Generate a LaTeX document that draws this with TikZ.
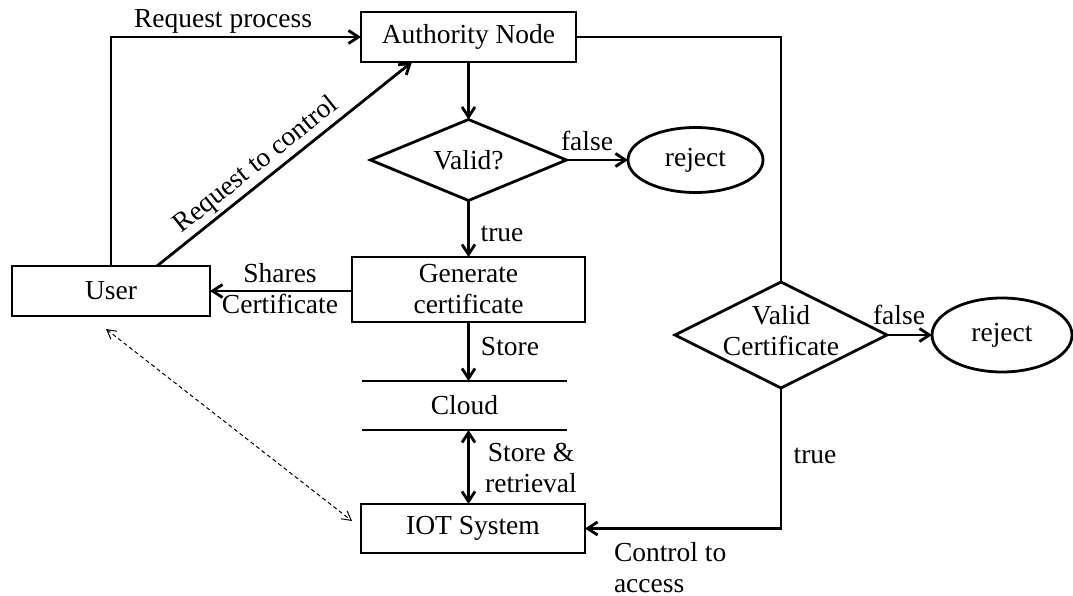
\documentclass[tikz,border=0pt]{standalone}
\usepackage{fontspec}
\setmainfont{Liberation Serif}
\usetikzlibrary{shapes.geometric,arrows.meta}
\begin{document}
\begin{tikzpicture}[x=1pt,y=-1pt,
  every node/.style={font=\fontsize{27.5}{31}\selectfont, inner sep=0pt, outer sep=0pt},
  box/.style={draw, line width=2.8pt, rectangle},
  dia/.style={draw, line width=2.8pt, diamond},
  oval/.style={draw, line width=2.8pt, ellipse},
  conn/.style={line width=2.8pt},
  arr/.style={line width=2.8pt, -{Straight Barb[length=10pt,width=13pt]}},
  dash2/.style={line width=1pt, dash pattern=on 4pt off 3pt, {Straight Barb[length=9pt,width=10pt]}-{Straight Barb[length=9pt,width=10pt]}},
  lbl/.style={anchor=base, align=center},
]
\useasboundingbox (0,0) rectangle (1073,596);
\fill[white] (0,0) rectangle (1073,596);

% nodes
\node[box, minimum width=215pt, minimum height=50pt] (auth) at (468.5,37) {Authority Node};
\node[box, minimum width=198pt, minimum height=50pt] (user) at (111,291) {User};
\node[dia, minimum width=196pt, minimum height=81pt] (valid) at (468.5,160) {};
\node at (valid.center) (validt) {Valid?};
\node[oval, minimum width=135pt, minimum height=65pt] (rej1) at (695.5,160) {reject};
\node[box, minimum width=233pt, minimum height=65pt, align=center] (gen) at (468.5,289.5) {Generate\\certificate};
\node[minimum width=205pt, minimum height=49pt] (cloud) at (464.5,405.5) {Cloud};
\node[box, minimum width=224pt, minimum height=49pt] (iot) at (473,528.5) {IOT System};
\node[dia, minimum width=212pt, minimum height=106pt] (vc) at (781,335) {};
\node[align=center] (vct) at (781,331) {Valid\\Certificate};
\node[oval, minimum width=140pt, minimum height=74pt] (rej2) at (1002,335) {reject};

% cloud lines
\draw[conn] (cloud.north west) -- (cloud.north east);
\draw[conn] (cloud.south west) -- (cloud.south east);

% connectors
\draw[arr] (user.north) |- (auth.west);
\node[lbl] (lreq) at (223,28) {Request process};

\draw[arr] ([xshift=46pt]user.north) -- node[sloped, pos=0.43, anchor=south, inner sep=4pt] (lrc) {Request to control} ([xshift=-56.5pt]auth.south);

\draw[arr] (auth.south) -- (valid.north);
\draw[arr] (valid.east) -- (rej1.west);
\node[lbl] (lf1) at (587,151) {false};

\draw[arr] (valid.south) -- (gen.north);
\node[lbl] (lt1) at (502,241) {true};

\draw[arr] (gen.west |- user.east) -- (user.east);
\node[lbl] (lsh) at (280,313) {Shares\\Certificate};

\draw[arr] (gen.south) -- (gen.south |- cloud.north);
\node[lbl] (lst) at (510,355) {Store};

\draw[line width=2.8pt, {Straight Barb[length=10pt,width=13pt]}-{Straight Barb[length=10pt,width=13pt]}] (gen.south |- cloud.south) -- (gen.south |- iot.north);
\node[lbl] (lsr) at (531,492) {Store \&\\retrieval};

\draw[dash2] ([xshift=-5pt,yshift=-13pt]user.south) -- ([xshift=-9pt,yshift=7.5pt]iot.west);

\draw[conn] (auth.east) -| (vc.north);
\draw[arr] (vc.east) -- (rej2.west);
\node[lbl] (lf2) at (899,324) {false};

\draw[arr] (vc.south) |- (iot.east);
\node[lbl] (lt2) at (815,463) {true};
\node[anchor=base west, align=left] (lca) at (614,592) {Control to\\access};
\end{tikzpicture}
\end{document}
